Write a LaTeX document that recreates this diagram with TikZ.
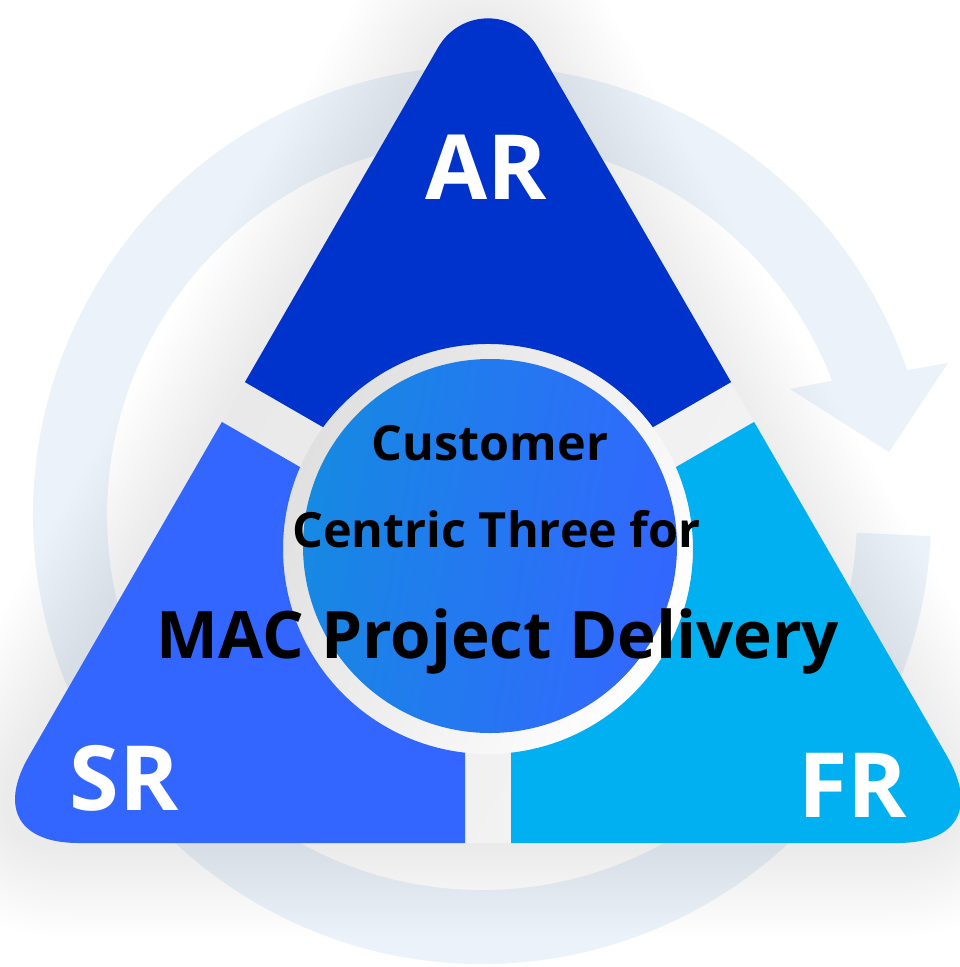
\documentclass[tikz,border=0pt]{standalone}
\usepackage{fontspec}
\setmainfont{Open Sans}
\definecolor{arblue}{HTML}{0033CC}
\definecolor{srblue}{HTML}{3366FF}
\definecolor{frblue}{HTML}{00B0F0}
\definecolor{ringblue}{HTML}{EBF2F9}
\definecolor{hubleft}{HTML}{1689E2}
\definecolor{hubmid}{HTML}{2580F4}
\definecolor{hubright}{HTML}{3366FF}
\definecolor{gapdark}{HTML}{E4E4E4}
\definecolor{gaplight}{HTML}{F7F7F7}
\definecolor{diskdark}{HTML}{E0E0E0}
\def\ARpath{(244.9,382.1) -- (438,47.6) .. controls (460.5,8.6) and (515.5,8.6) .. (538,47.6) -- (731.1,382.1) -- (652.9,427.2) arc[start angle=-36.44, end angle=-143.56, radius=205] -- cycle}
\def\SRpath{(221.9,421.9) -- (28.8,756.4) .. controls (-1.2,808.4) and (18.8,843) .. (78.8,843) -- (465,843) -- (465,752.7) arc[start angle=96.44, end angle=203.56, radius=205] -- cycle}
\def\FRpath{(754.1,421.9) -- (947.2,756.4) .. controls (977.2,808.4) and (957.2,843) .. (897.2,843) -- (511,843) -- (511,752.7) arc[start angle=83.56, end angle=-23.56, radius=205] -- cycle}
\def\TRIpath{(438,47.6) .. controls (460.5,8.6) and (515.5,8.6) .. (538,47.6) -- (947.2,756.4) .. controls (977.2,808.4) and (957.2,843) .. (897.2,843) -- (78.8,843) .. controls (18.8,843) and (-1.2,808.4) .. (28.8,756.4) -- cycle}
\begin{document}
\begin{tikzpicture}[x=1pt,y=-1pt,
  glow/.style={draw=black, opacity=0.0039, line join=round},
  cornerlabel/.style={text=white, inner sep=0pt, anchor=base, font=\fontsize{90}{90}\selectfont\bfseries},
  hubline/.style={text=black, inner sep=0pt, anchor=base, font=\fontsize{48.5}{48.5}\selectfont\bfseries},
  hubtitle/.style={text=black, inner sep=0pt, anchor=base, font=\fontsize{65.5}{65.5}\selectfont\bfseries}]
\useasboundingbox (0,0) rectangle (959,967);
\fill[white] (0,0) rectangle (959,967);
% circular arrow ring
\fill[ringblue] (907.1,370.3) arc[start angle=-18.8, end angle=-357.3, radius=449]
  -- (856.6,532.7) arc[start angle=-357.3, end angle=-21, radius=375]
  -- (790,389) -- (889,452) -- (948,363) -- cycle;
% soft outer shadow
\begin{scope}[shift={(-8,4)}]
\foreach \w in {9,18,...,180} {
  \draw[glow, line width=\w pt] \TRIpath;
}
\end{scope}
% gaps and hub ring background
\shade[left color=gapdark, right color=gaplight, shading angle=60] \TRIpath;
\shade[left color=diskdark, right color=white, shading angle=60] (488,549) circle[radius=205];
% pieces
\fill[arblue] \ARpath;
\fill[srblue] \SRpath;
\fill[frblue] \FRpath;
% hub
\shade[left color=hubleft, middle color=hubmid, right color=hubright, shading angle=80] (490,546) circle[radius=187];
% labels
\node[cornerlabel] (ar) at (486.5,199) {AR};
\node[cornerlabel] (sr) at (124,810) {SR};
\node[cornerlabel] (fr) at (852.5,817) {FR};
\node[hubline] (l1) at (490,460) {Customer};
\node[hubline] (l2) at (496.5,547) {Centric Three for};
\node[hubtitle] (l3) at (498,658) {MAC Project Delivery};
\end{tikzpicture}
\end{document}
